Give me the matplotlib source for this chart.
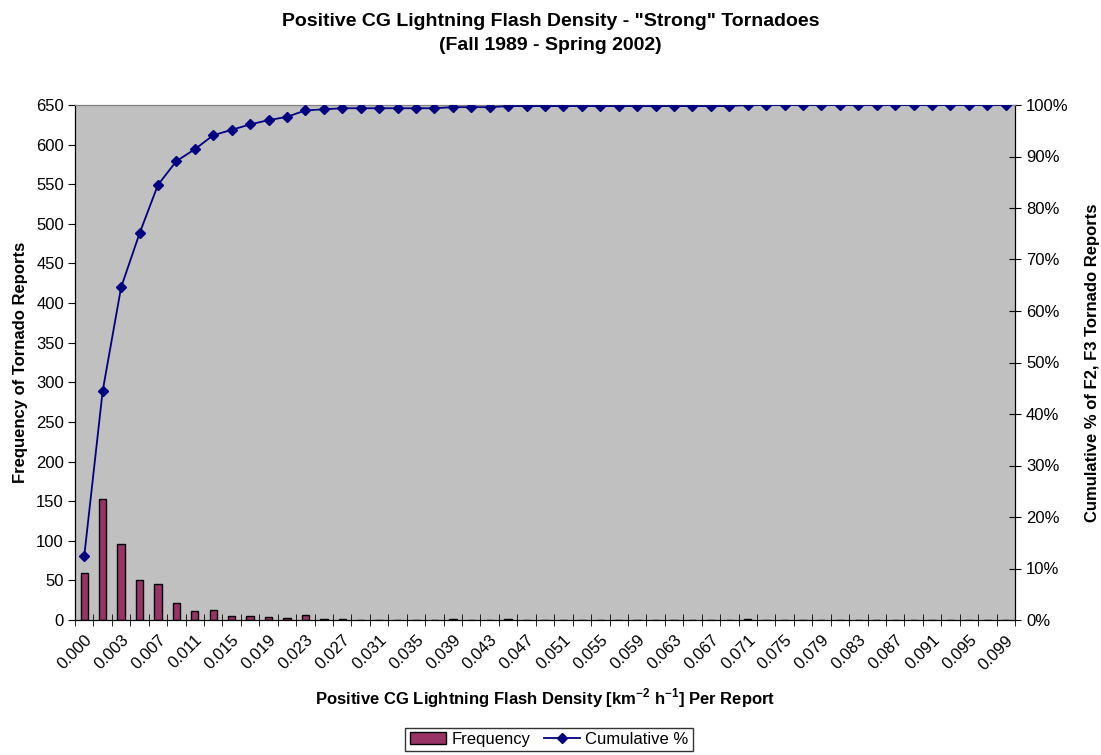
import matplotlib
matplotlib.use("Agg")
import matplotlib.pyplot as plt
from matplotlib.ticker import FuncFormatter, FixedLocator
import numpy as np

plt.rcParams['font.family'] = ['Liberation Sans', 'DejaVu Sans']
plt.rcParams['mathtext.fontset'] = 'custom'
plt.rcParams['mathtext.rm'] = 'Liberation Sans'
plt.rcParams['mathtext.bf'] = 'Liberation Sans:bold'

# bin labels (flash density per report)
bins = ["0.000"] + ["%.3f" % (0.002 * k - 0.001) for k in range(1, 51)]

# frequency of tornado reports per bin
freq = [59, 153, 96, 50, 45, 22, 11, 13, 5, 5,
        4, 3, 6, 1, 1, 0, 0, 0, 0, 0,
        1, 0, 0, 1, 0, 0, 0, 0, 0, 0,
        0, 0, 0, 0, 0, 0, 1, 0, 0, 0,
        0, 0, 0, 0, 0, 0, 0, 0, 0, 0,
        0]

freq = np.array(freq)
cum = np.cumsum(freq) / freq.sum()
x = np.arange(len(bins))

fig = plt.figure(figsize=(11.01, 7.55), dpi=100)
ax = fig.add_axes([75 / 1101, 1 - 620 / 755, 940 / 1101, 515 / 755])
ax.set_facecolor('#C0C0C0')

bars = ax.bar(x, freq, width=0.4, color='#993366', edgecolor='black', linewidth=1.0,
              label='Frequency', zorder=2)
ax.set_xlim(-0.5, len(bins) - 0.5)
ax.set_ylim(0, 650)
ax.set_yticks(np.arange(0, 651, 50))
ax.tick_params(axis='y', direction='out', length=5, labelsize=12, pad=3)

ax.set_xticks(x[::2])
ax.set_xticklabels(bins[::2], rotation=45, ha='right', rotation_mode='anchor', fontsize=12)
ax.xaxis.set_minor_locator(FixedLocator(np.arange(-0.5, len(bins), 1)))
ax.tick_params(axis='x', which='major', length=0, pad=9)
ax.tick_params(axis='x', which='minor', direction='inout', length=8)

for s in ['left', 'bottom']:
    ax.spines[s].set_color('black')
ax.spines['top'].set_color('#808080')
ax.spines['right'].set_color('black')

ax.set_ylabel('Frequency of Tornado Reports', fontsize=12, fontweight='bold', labelpad=6)
ax.set_xlabel(r'Positive CG Lightning Flash Density [km$^{\mathbf{-2}}$ h$^{\mathbf{-1}}$] Per Report',
              fontsize=12, fontweight='bold', labelpad=10)

ax2 = ax.twinx()
line, = ax2.plot(x, cum, color='#000080', marker='D', markersize=5.5, linewidth=1.3,
                 label='Cumulative %', zorder=3)
ax2.set_ylim(0, 1)
ax2.set_yticks(np.arange(0, 1.01, 0.1))
ax2.yaxis.set_major_formatter(FuncFormatter(lambda v, p: "%d%%" % round(v * 100)))
ax2.tick_params(axis='y', direction='inout', length=8, labelsize=12, pad=4)
ax2.set_ylabel('Cumulative % of F2, F3 Tornado Reports', fontsize=12, fontweight='bold',
               labelpad=12)
ax2.spines['right'].set_color('black')
ax2.spines['top'].set_color('#808080')

fig.suptitle('Positive CG Lightning Flash Density - "Strong" Tornadoes\n(Fall 1989 - Spring 2002)',
             fontsize=14, fontweight='bold', y=0.983, linespacing=1.55)

leg = fig.legend(handles=[bars, line], labels=['Frequency', 'Cumulative %'],
                 loc='lower center', bbox_to_anchor=(549 / 1101, -0.006), ncol=2, fontsize=12,
                 frameon=True, fancybox=False, edgecolor='black', handlelength=2.2,
                 handletextpad=0.3, columnspacing=0.8, borderpad=0.25)
leg.get_frame().set_linewidth(1.0)

fig.savefig('out.png', dpi=100)
